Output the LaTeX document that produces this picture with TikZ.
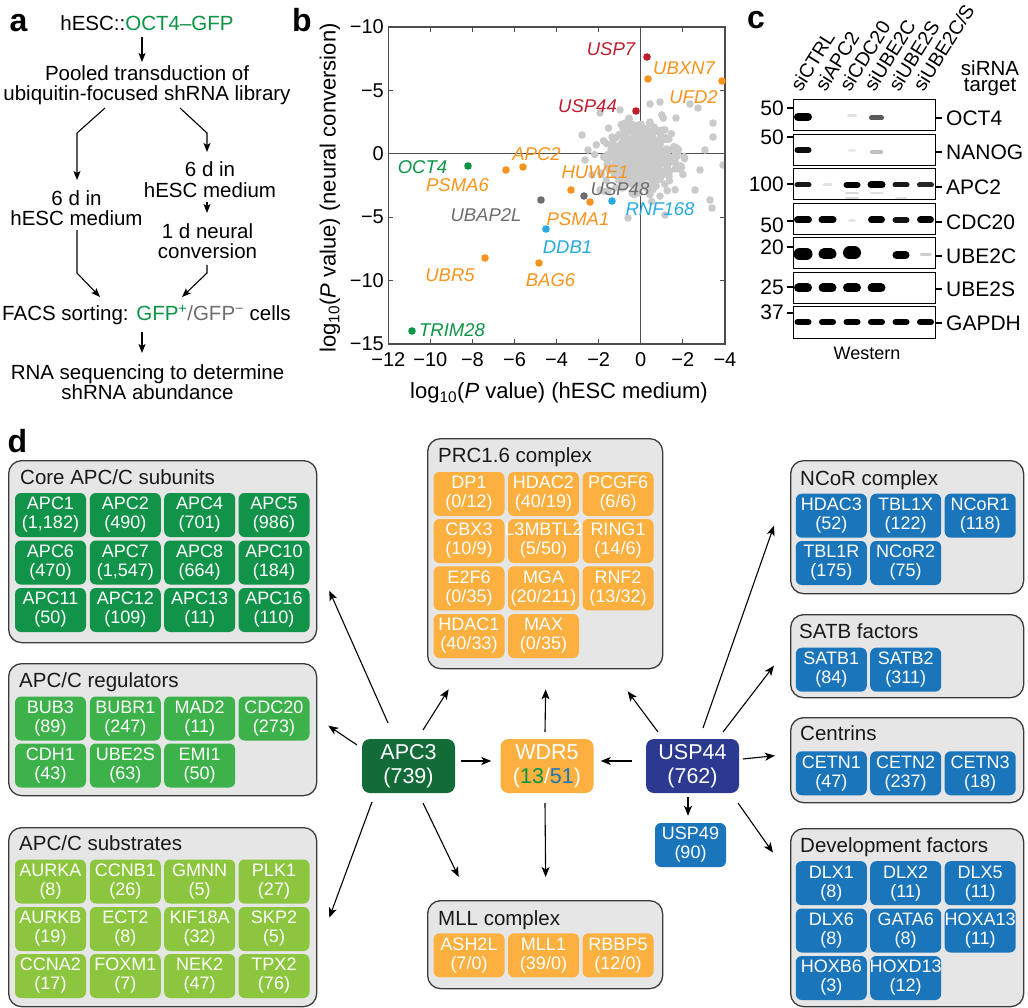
\documentclass[tikz,border=0pt]{standalone}
\usepackage{fontspec}
\setmainfont{Liberation Sans}
\usetikzlibrary{arrows.meta}
\definecolor{coreg}{HTML}{12934A}
\definecolor{regg}{HTML}{3DB24B}
\definecolor{subg}{HTML}{8CC63F}
\definecolor{apcg}{HTML}{136B38}
\definecolor{orng}{HTML}{FBB040}
\definecolor{blu}{HTML}{1B75BB}
\definecolor{navy}{HTML}{2B3990}
\definecolor{grpfill}{HTML}{E6E6E6}
\definecolor{grpline}{HTML}{3A3A3A}
\definecolor{ptred}{HTML}{BE1E2D}
\definecolor{ptorg}{HTML}{F7941D}
\definecolor{ptgrn}{HTML}{0B9444}
\definecolor{ptblu}{HTML}{27AAE1}
\definecolor{ptgry}{HTML}{6D6E71}
\definecolor{cloudc}{HTML}{CACACA}
\definecolor{axc}{HTML}{4D4D4D}
\newcommand\fsz[2]{\fontsize{#1}{#2}\selectfont}
\newcommand\gn[6]{\node[gene,fill=#2] (#1) at (#3,#4) {\makebox[0pt]{#5}\\\makebox[0pt]{#6}};}
\newcommand\band[5]{\draw[line width=#4pt, line cap=round, opacity=#5] ({#1-#3/2+#4/2},#2) -- ({#1+#3/2-#4/2},#2);}
\begin{document}
\begin{tikzpicture}[x=1pt,y=-1pt,
  ta/.style={align=center, inner sep=0pt, font=\fsz{20.5}{20.5}},
  plabel/.style={inner sep=0pt, font=\fsz{32}{32}\bfseries},
  arra/.style={-{Stealth[length=9pt,width=7pt,inset=2pt]}, line width=1.1pt},
  arrd/.style={-{Stealth[length=10pt,width=8pt,inset=2.5pt]}, line width=1.1pt},
  sl/.style={inner sep=0pt, font={\fsz{18.5}{20}\itshape}},
  tick/.style={inner sep=0pt, font=\fsz{20}{20}},
  axt/.style={inner sep=0pt, font=\fsz{22}{22}},
  mw/.style={inner sep=0pt, font=\fsz{21}{21}},
  grp/.style={draw=grpline, fill=grpfill, line width=1.3pt, rounded corners=13pt, anchor=north west, inner sep=0pt},
  gtitle/.style={anchor=base west, inner sep=0pt, font=\fsz{20.5}{22}, text=black!90},
  gene/.style={rounded corners=6pt, minimum width=71pt, minimum height=44pt, inner sep=0pt, text=white, align=center, font=\fsz{18}{19}},
  hub/.style={rounded corners=8pt, minimum width=93pt, minimum height=54pt, inner sep=0pt, text=white, align=center, font=\fsz{21.5}{24}}
]
\useasboundingbox (0,0) rectangle (1028,1008);
\fill[white] (0,0) rectangle (1028,1008);

% ---------------- panel labels
\node[plabel] (la) at (18.5,23.5) {a};
\node[plabel] (lb) at (302,20) {b};
\node[plabel] (lc) at (756,20.5) {c};
\node[plabel] (ld) at (17.5,441) {d};

% ---------------- panel a
\node[ta] (hesc) at (147,23) {hESC::\textcolor{ptgrn}{OCT4–GFP}};
\node[ta] (pool) at (147,85) {Pooled transduction of\\ubiquitin-focused shRNA library};
\node[ta] (r6) at (210,179.5) {6 d in\\hESC medium};
\node[ta] (neur) at (207.5,241) {1 d neural\\conversion};
\node[ta] (l6) at (76.5,208) {6 d in\\hESC medium};
\node[ta] (facs) at (146.5,315) {FACS sorting: \textcolor{ptgrn}{GFP\textsuperscript{+}}\textcolor{ptgry}{/GFP\textsuperscript{−}} cells};
\node[ta] (rna) at (147.5,382) {RNA sequencing to determine\\shRNA abundance};

\draw[arra] ([shift={(-5,14)}]hesc.center) -- ([shift={(-5,-23)}]pool.center);
\draw[arra] ([shift={(-42,23)}]pool.center) -- ([shift={(0.5,-75)}]l6.center) -- ([shift={(0.5,-28)}]l6.center);
\draw[arra] ([shift={(33,23)}]pool.center) -- ([shift={(-3,-46.5)}]r6.center) -- ([shift={(-3,-27.5)}]r6.center);
\draw[arra] ([shift={(-3,22.5)}]r6.center) -- ([shift={(-0.5,-28)}]neur.center);
\draw[arra] ([shift={(0.5,22)}]l6.center) -- ([shift={(-69.5,-42)}]facs.center) -- ([shift={(-46.5,-18)}]facs.center);
\draw[arra] ([shift={(-0.5,24)}]neur.center) -- ([shift={(60.5,-42)}]facs.center) -- ([shift={(35.5,-18)}]facs.center);
\draw[arra] ([shift={(-4.5,17)}]facs.center) -- ([shift={(-5.5,-29)}]rna.center);

% ---------------- panel b
\draw[axc, line width=1.1pt] (640.8,27) -- (640.8,344);
\draw[axc, line width=1.1pt] (388.3,153.8) -- (725,153.8);
\begin{scope}
\clip (388.3,27) rectangle (725,344);
\pgfmathsetseed{42}
\foreach \i in {1,...,650}{
  \pgfmathsetmacro\rr{sqrt(-2*ln(0.001+0.999*rnd))}
  \pgfmathsetmacro\aa{360*rnd}
  \pgfmathsetmacro\px{641+15*\rr*cos(\aa)}
  \pgfmathsetmacro\py{157+15*\rr*sin(\aa)}
  \fill[cloudc] (\px,\py) circle[radius=3.8];
}
\foreach \x/\y in {713/123,713/137,723/165,712/208,628/218,582/135,690/104,698/108,650/104,660/102,600/113,588/150,676/118,705/150,695/190,700/170,600/190,585/160,592/175,620/110,710/200,665/215}
  \fill[cloudc] (\x,\y) circle[radius=3.8];
\end{scope}
\draw[axc, line width=1.2pt] (388.3,27) rectangle (725,344);
\foreach \v in {-10,-8,-6,-4,-2,2}{
  \draw[axc, line width=1.1pt] ({388.3+21.04*(\v+12)},27) -- ++(0,5);
  \draw[axc, line width=1.1pt] ({388.3+21.04*(\v+12)},344) -- ++(0,-5);
}
\foreach \w in {5,-5,-10}{
  \draw[axc, line width=1.1pt] (388.3,{153.8-12.68*\w}) -- ++(5,0);
  \draw[axc, line width=1.1pt] (725,{153.8-12.68*\w}) -- ++(-5,0);
}
\foreach \v/\t [count=\k] in {-12/−12,-10/−10,-8/−8,-6/−6,-4/−4,-2/−2,0/0,2/−2,4/−4}
  \node[tick] (xt\k) at ({388.3+21.04*(\v+12)},360) {\t};
\foreach \w/\t [count=\k] in {10/−10,5/−5,0/0,-5/−5,-10/−10,-15/−15}
  \node[tick,anchor=east] (yt\k) at (384,{153.8-12.68*\w}) {\t};
\node[axt] (xlab) at (559,393) {log\textsubscript{10}(\textit{P} value) (hESC medium)};
\node[axt,rotate=90] (ylab) at (330,188) {log\textsubscript{10}(\textit{P} value) (neural conversion)};

\foreach \x/\y/\c in {647/57/ptred,648/79/ptorg,722/81/ptorg,636/111/ptred,468/166/ptgrn,506/170/ptorg,523/167/ptorg,571/190/ptorg,584/196/ptgry,590/202/ptorg,541/200/ptgry,612/201/ptblu,546/229/ptblu,485/258/ptorg,539/263/ptorg,412/331/ptgrn}
  \fill[\c] (\x,\y) circle[radius=3.8];

\node[sl,text=ptred] (sUSP7) at (611,49) {USP7};
\node[sl,text=ptorg] (sUBXN7) at (684,68) {UBXN7};
\node[sl,text=ptorg] (sUFD2) at (693.5,97) {UFD2};
\node[sl,text=ptred] (sUSP44) at (587.5,106) {USP44};
\node[sl,text=ptgrn] (sOCT4) at (422.5,167) {OCT4};
\node[sl,text=ptorg] (sPSMA6) at (457.5,185) {PSMA6};
\node[sl,text=ptorg] (sAPC2) at (536.5,154) {APC2};
\node[sl,text=ptorg] (sHUWE1) at (595,172) {HUWE1};
\node[sl,text=ptgry] (sUSP48) at (620,189) {USP48};
\node[sl,text=ptgry] (sUBAP2L) at (486,215) {UBAP2L};
\node[sl,text=ptorg] (sPSMA1) at (578,219) {PSMA1};
\node[sl,text=ptblu] (sRNF168) at (660,209) {RNF168};
\node[sl,text=ptblu] (sDDB1) at (567.5,247) {DDB1};
\node[sl,text=ptorg] (sUBR5) at (450,275) {UBR5};
\node[sl,text=ptorg] (sBAG6) at (550.5,280) {BAG6};
\node[sl,text=ptgrn] (sTRIM28) at (452,330) {TRIM28};

% ---------------- panel c
\foreach \lab [count=\i from 0] in {siCTRL,siAPC2,siCDC20,siUBE2C,siUBE2S,siUBE2C/S}
  \node[rotate=58, anchor=base west, inner sep=0pt, font=\fsz{19.5}{19.5}] (lane\i) at ({801+24.5*\i},93) {\lab};
\node[align=center, inner sep=0pt, font=\fsz{20.5}{16.5}] (sirna) at (990,78) {siRNA\\target};
\foreach \i in {0,...,6}
  \draw[line width=1pt] (793,{100+34.5*\i}) rectangle (935,{131+34.5*\i});
% bands
\band{803}{117}{18}{8}{1} \band{852}{116}{10}{3}{.12} \band{876.5}{118}{15}{5}{.65}
\band{803}{150}{17}{6}{.95} \band{852}{151}{9}{3}{.08} \band{876.5}{152}{13}{4}{.25}
\band{803}{185}{17}{5}{.9} \band{827.5}{185}{10}{3}{.12} \band{852}{185}{17}{6}{1} \band{876.5}{185}{18}{7}{1} \band{901}{185}{17}{5}{.9} \band{925.5}{185}{17}{5}{.85}
\band{852}{193}{14}{2}{.15} \band{876.5}{193}{14}{2}{.12} \band{852}{198}{14}{2}{.15} \band{901}{198}{12}{2}{.12}
\band{803}{220}{18}{7}{1} \band{827.5}{220}{18}{7}{1} \band{852}{221}{8}{3}{.1} \band{876.5}{220}{17}{7}{1} \band{901}{220}{17}{6}{.92} \band{925.5}{220}{17}{7}{1}
\band{803}{254}{19}{12}{1} \band{827.5}{254}{18}{11}{1} \band{852}{253}{18}{13}{1} \band{901}{255}{17}{8}{1} \band{925.5}{255}{12}{3}{.2}
\foreach \x in {803,827.5,852,876.5} {\band{\x}{288}{18}{9}{1}}
\foreach \x in {803,827.5,852,876.5,901,925.5} {\band{\x}{322}{17}{6}{1}}
% MW markers
\foreach \y/\ty/\t [count=\k] in {108/108/50,137/137/50,184/184/100,221/225/50,247/247/20,287/287/25,313/312/37}{
  \draw[line width=1.1pt] (787,\y) -- (793,\y);
  \node[mw,anchor=east] (mw\k) at (784,\ty) {\t};
}
\foreach \y/\t [count=\k] in {118/OCT4,152/NANOG,187/APC2,222/CDC20,256/UBE2C,289/UBE2S,323/GAPDH}{
  \draw[line width=1.1pt] (935,\y) -- (942,\y);
  \node[mw,anchor=west] (pr\k) at (946,\y) {\t};
}
\node[inner sep=0pt, font=\fsz{18}{18}] (west) at (867,353) {Western};

% ---------------- panel d groups
\node[grp, minimum width=308pt, minimum height=182pt] (core) at (8,460) {};
\node[grp, minimum width=308pt, minimum height=132pt] (reg) at (8,663) {};
\node[grp, minimum width=308pt, minimum height=179pt] (sub) at (8,827) {};
\node[grp, minimum width=235pt, minimum height=230pt] (prc) at (427,438) {};
\node[grp, minimum width=235pt, minimum height=88pt] (mll) at (427,900) {};
\node[grp, minimum width=233pt, minimum height=133pt] (ncor) at (790,460) {};
\node[grp, minimum width=233pt, minimum height=83pt] (satb) at (790,614) {};
\node[grp, minimum width=233pt, minimum height=85pt] (cetn) at (790,717) {};
\node[grp, minimum width=233pt, minimum height=178pt] (dev) at (790,828) {};

\node[gtitle] (coreT) at (20,484.3) {Core APC/C subunits};
\node[gtitle] (regT) at (19,687.3) {APC/C regulators};
\node[gtitle] (subT) at (19,850.3) {APC/C substrates};
\node[gtitle] (prcT) at (438,462.3) {PRC1.6 complex};
\node[gtitle] (mllT) at (438,925.3) {MLL complex};
\node[gtitle] (ncorT) at (800,485.3) {NCoR complex};
\node[gtitle] (satbT) at (799,638.3) {SATB factors};
\node[gtitle] (cetnT) at (800,740.3) {Centrins};
\node[gtitle] (devT) at (800,852.3) {Development factors};

% core
\gn{apc1}{coreg}{50.5}{515}{APC1}{(1,182)}
\gn{apc2}{coreg}{125.3}{515}{APC2}{(490)}
\gn{apc4}{coreg}{199.7}{515}{APC4}{(701)}
\gn{apc5}{coreg}{274}{515}{APC5}{(986)}
\gn{apc6}{coreg}{50.5}{562.5}{APC6}{(470)}
\gn{apc7}{coreg}{125.3}{562.5}{APC7}{(1,547)}
\gn{apc8}{coreg}{199.7}{562.5}{APC8}{(664)}
\gn{apc10}{coreg}{274}{562.5}{APC10}{(184)}
\gn{apc11}{coreg}{50.5}{610}{APC11}{(50)}
\gn{apc12}{coreg}{125.3}{610}{APC12}{(109)}
\gn{apc13}{coreg}{199.7}{610}{APC13}{(11)}
\gn{apc16}{coreg}{274}{610}{APC16}{(110)}
% regulators
\gn{bub3}{regg}{50.5}{718.5}{BUB3}{(89)}
\gn{bubr1}{regg}{125.3}{718.5}{BUBR1}{(247)}
\gn{mad2}{regg}{199.7}{718.5}{MAD2}{(11)}
\gn{cdc20}{regg}{274}{718.5}{CDC20}{(273)}
\gn{cdh1}{regg}{50.5}{765.5}{CDH1}{(43)}
\gn{ube2s}{regg}{125.3}{765.5}{UBE2S}{(63)}
\gn{emi1}{regg}{199.7}{765.5}{EMI1}{(50)}
% substrates
\gn{aurka}{subg}{50.5}{881.5}{AURKA}{(8)}
\gn{ccnb1}{subg}{125.3}{881.5}{CCNB1}{(26)}
\gn{gmnn}{subg}{199.7}{881.5}{GMNN}{(5)}
\gn{plk1}{subg}{274}{881.5}{PLK1}{(27)}
\gn{aurkb}{subg}{50.5}{929}{AURKB}{(19)}
\gn{ect2}{subg}{125.3}{929}{ECT2}{(8)}
\gn{kif18a}{subg}{199.7}{929}{KIF18A}{(32)}
\gn{skp2}{subg}{274}{929}{SKP2}{(5)}
\gn{ccna2}{subg}{50.5}{976}{CCNA2}{(17)}
\gn{foxm1}{subg}{125.3}{976}{FOXM1}{(7)}
\gn{nek2}{subg}{199.7}{976}{NEK2}{(47)}
\gn{tpx2}{subg}{274}{976}{TPX2}{(76)}
% PRC1.6
\gn{dp1}{orng}{469}{494}{DP1}{(0/12)}
\gn{hdac2}{orng}{543.5}{494}{HDAC2}{(40/19)}
\gn{pcgf6}{orng}{618}{494}{PCGF6}{(6/6)}
\gn{cbx3}{orng}{469}{541}{CBX3}{(10/9)}
\gn{l3mbtl2}{orng}{543.5}{541}{L3MBTL2}{(5/50)}
\gn{ring1}{orng}{618}{541}{RING1}{(14/6)}
\gn{e2f6}{orng}{469}{588.3}{E2F6}{(0/35)}
\gn{mga}{orng}{543.5}{588.3}{MGA}{(20/211)}
\gn{rnf2}{orng}{618}{588.3}{RNF2}{(13/32)}
\gn{hdac1}{orng}{469}{636}{HDAC1}{(40/33)}
\gn{max}{orng}{543.5}{636}{MAX}{(0/35)}
% MLL
\gn{ash2l}{orng}{469}{955.3}{ASH2L}{(7/0)}
\gn{mll1}{orng}{543.5}{955.3}{MLL1}{(39/0)}
\gn{rbbp5}{orng}{618}{955.3}{RBBP5}{(12/0)}
% NCoR
\gn{hdac3}{blu}{831.3}{515.7}{HDAC3}{(52)}
\gn{tbl1x}{blu}{905.7}{515.7}{TBL1X}{(122)}
\gn{ncor1}{blu}{980.2}{515.7}{NCoR1}{(118)}
\gn{tbl1r}{blu}{831.3}{563}{TBL1R}{(175)}
\gn{ncor2}{blu}{905.7}{563}{NCoR2}{(75)}
% SATB
\gn{satb1}{blu}{831.3}{669.7}{SATB1}{(84)}
\gn{satb2}{blu}{905.7}{669.7}{SATB2}{(311)}
% Centrins
\gn{cetn1}{blu}{831.3}{773.3}{CETN1}{(47)}
\gn{cetn2}{blu}{905.7}{773.3}{CETN2}{(237)}
\gn{cetn3}{blu}{980.2}{773.3}{CETN3}{(18)}
% Development
\gn{dlx1}{blu}{831.3}{883.2}{DLX1}{(8)}
\gn{dlx2}{blu}{905.7}{883.2}{DLX2}{(11)}
\gn{dlx5}{blu}{980.2}{883.2}{DLX5}{(11)}
\gn{dlx6}{blu}{831.3}{930.5}{DLX6}{(8)}
\gn{gata6}{blu}{905.7}{930.5}{GATA6}{(8)}
\gn{hoxa13}{blu}{980.2}{930.5}{HOXA13}{(11)}
\gn{hoxb6}{blu}{831.3}{978}{HOXB6}{(3)}
\gn{hoxd13}{blu}{905.7}{978}{HOXD13}{(12)}

% hubs
\node[hub,fill=apcg] (apc3) at (408.5,766) {APC3\\(739)};
\node[hub,fill=orng] (wdr5) at (547,766) {WDR5\\(\textcolor{ptgrn}{13}/\textcolor{blu}{51})};
\node[hub,fill=navy] (usp44) at (692.5,766) {USP44\\(762)};
\gn{usp49}{blu}{690.5}{845}{USP49}{(90)}

% connectors
\draw[arrd] ([shift={(-20.5,-43)}]apc3.center) -- ([shift={(12,39)}]core.east);
\draw[arrd] ([shift={(-51.5,-21)}]apc3.center) -- ([shift={(11,-4)}]reg.east);
\draw[arrd] ([shift={(-36.5,36)}]apc3.center) -- ([shift={(12,0.5)}]sub.east);
\draw[arrd] ([shift={(14.5,-36)}]apc3.center) -- ([shift={(-96.5,20)}]prc.south);
\draw[arrd] ([shift={(52.5,-5)}]apc3.center) -- ([shift={(-9,-5)}]wdr5.west);
\draw[arrd] ([shift={(14.5,37)}]apc3.center) -- ([shift={(-86.5,-23)}]mll.north);
\draw[arrd] ([shift={(-2,-34)}]wdr5.center) -- ([shift={(0.5,20)}]prc.south);
\draw[arrd] ([shift={(-2,37)}]wdr5.center) -- ([shift={(0.5,-23)}]mll.north);
\draw[arrd] ([shift={(-60.5,-5)}]usp44.center) -- ([shift={(7,-5)}]wdr5.east);
\draw[arrd] ([shift={(-34.5,-34)}]usp44.center) -- ([shift={(82.5,22)}]prc.south);
\draw[arrd] ([shift={(-4.5,31)}]usp44.center) -- ([shift={(-2.5,-7)}]usp49.north);
\draw[arrd] ([shift={(10.5,-38)}]usp44.center) -- ([shift={(-16,-1.5)}]ncor.west);
\draw[arrd] ([shift={(30.5,-34)}]usp44.center) -- ([shift={(-16,9.5)}]satb.west);
\draw[arrd] ([shift={(50.5,-7)}]usp44.center) -- ([shift={(-15,-4.5)}]cetn.west);
\draw[arrd] ([shift={(45.5,37)}]usp44.center) -- ([shift={(-17,-65)}]dev.west);
\end{tikzpicture}
\end{document}
